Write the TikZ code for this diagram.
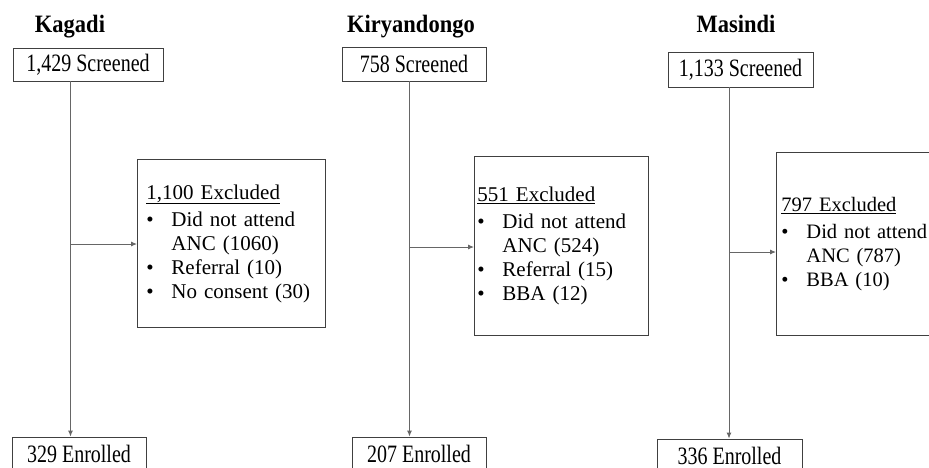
\documentclass[tikz,border=0pt]{standalone}
\usepackage{fontspec}
\setmainfont{Liberation Serif}
\newfontfamily\narrowfont[FakeStretch=0.8]{Liberation Serif}
\newfontfamily\titlefont[FakeStretch=0.9]{Liberation Serif}
\usetikzlibrary{arrows.meta}
\tikzset{
	box/.style={draw=black!75, line width=0.9pt, inner sep=0pt, font=\narrowfont\fontsize{25}{28}\selectfont},
	exbox/.style={box, align=left, anchor=north west, font=\fontsize{21}{24}\selectfont},
	title/.style={font=\titlefont\fontsize{25}{28}\selectfont\bfseries, anchor=base, inner sep=0pt},
	line/.style={draw=black!60, line width=0.9pt},
	arr/.style={line, -{Latex[length=6pt,width=5pt]}}
}
\newcommand{\bul}{\makebox[25pt][l]{•}}
\begin{document}
\begin{tikzpicture}[x=1pt,y=-1pt]
		\useasboundingbox (0,0) rectangle (929,467);
		\clip (0,0) rectangle (929,467);
		
		\node[title] (ktitle) at (70,32) {Kagadi};
		\node[title] (rtitle) at (411,32) {Kiryandongo};
		\node[title] (mtitle) at (736,32) {Masindi};
		
		\node[box, minimum width=150pt, minimum height=33pt] (kscr) at (88,64.5) {1,429 Screened};
		\node[box, minimum width=144pt, minimum height=34pt] (rscr) at (414,64) {758 Screened};
		\node[box, minimum width=145pt, minimum height=35pt] (mscr) at (740.5,69.5) {1,133 Screened};
		
		\node[exbox, text width=170pt, inner xsep=9pt, minimum height=168pt] (kex) at (137,159)
			{\underline{1,100 Excluded}\\[3pt] \bul Did not attend\\ \hspace*{25pt}ANC (1060)\\ \bul Referral (10)\\ \bul No consent (30)};
		\node[exbox, text width=168pt, inner xsep=3pt, minimum height=179pt] (rex) at (474,156)
			{\underline{551 Excluded}\\[3pt] \bul Did not attend\\ \hspace*{25pt}ANC (524)\\ \bul Referral (15)\\ \bul BBA (12)};
		\node[exbox, text width=170pt, inner xsep=5pt, minimum height=183pt, font=\fontsize{20.5}{24}\selectfont] (mex) at (776,152)
			{\underline{797 Excluded}\\[3pt] \bul Did not attend\\ \hspace*{25pt}ANC (787)\\ \bul BBA (10)};
		
		\node[box, minimum width=134pt, minimum height=34pt] (kenr) at (79,454) {329 Enrolled};
		\node[box, minimum width=134pt, minimum height=34pt] (renr) at (419,454) {207 Enrolled};
		\node[box, minimum width=145pt, minimum height=34pt] (menr) at (729.5,456) {336 Enrolled};
		
		\coordinate (kx) at (70.5,244);
		\coordinate (rx) at (409.5,247);
		\coordinate (mx) at (729,252);
		
		\draw[arr] (kscr.south -| kx) -- (kenr.north -| kx);
		\draw[arr] (rscr.south -| rx) -- (renr.north -| rx);
		\draw[arr] (mscr.south -| mx) -- (menr.north -| mx);
		
		\draw[arr] (kx) -- (kx -| kex.west);
		\draw[arr] (rx) -- (rx -| rex.west);
		\draw[arr] (mx) -- (mx -| mex.west);
	\end{tikzpicture}
\end{document}
